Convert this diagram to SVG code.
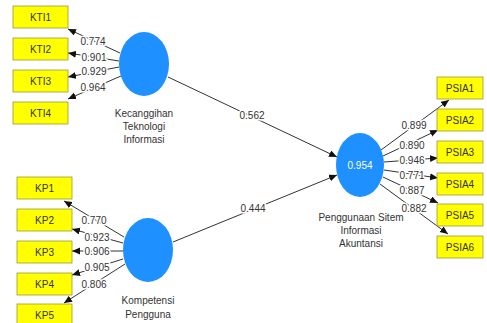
<svg xmlns="http://www.w3.org/2000/svg" width="487" height="323" viewBox="0 0 487 323">
<style>
.box{fill:#ffff00;stroke:#9a9a3a;stroke-width:0.8}
.lv{fill:#1e90ff}
.t{font-family:"Liberation Sans",Arial,sans-serif;font-size:10px;fill:#333;text-anchor:middle}
.lbl{font-family:"Liberation Sans",Arial,sans-serif;font-size:10px;fill:#333;text-anchor:middle;paint-order:stroke;stroke:#fff;stroke-width:3px;stroke-linejoin:round}
.c{stroke:#333;stroke-width:1;fill:none;marker-end:url(#ah)}
</style>
<defs>
<marker id="ah" markerUnits="userSpaceOnUse" markerWidth="9" markerHeight="8" refX="8" refY="3.5" orient="auto">
<path d="M0,0 L8,3.5 L0,7 z" fill="#111"/>
</marker>
</defs>
<rect width="487" height="323" fill="#fff"/>
<g id="connectors">
<line class="c" x1="120" y1="53" x2="68" y2="29"/>
<line class="c" x1="119" y1="61" x2="68" y2="53"/>
<line class="c" x1="119" y1="67" x2="68" y2="77"/>
<line class="c" x1="121" y1="76" x2="68" y2="99"/>
<line class="c" x1="124" y1="237" x2="64" y2="201"/>
<line class="c" x1="123" y1="243" x2="72" y2="229"/>
<line class="c" x1="123" y1="251" x2="72" y2="251"/>
<line class="c" x1="123" y1="259" x2="72" y2="275"/>
<line class="c" x1="125" y1="264" x2="64" y2="303"/>
<line class="c" x1="168" y1="77" x2="337" y2="157"/>
<line class="c" x1="173" y1="242" x2="337" y2="175"/>
<line class="c" x1="381" y1="150" x2="449" y2="100"/>
<line class="c" x1="383" y1="156" x2="438" y2="130"/>
<line class="c" x1="384" y1="162" x2="438" y2="158"/>
<line class="c" x1="384" y1="170" x2="438" y2="178"/>
<line class="c" x1="383" y1="177" x2="438" y2="203"/>
<line class="c" x1="380" y1="184" x2="448" y2="234"/>
<text class="lbl" x="93" y="45">0.774</text>
<text class="lbl" x="94" y="61">0.901</text>
<text class="lbl" x="94" y="75">0.929</text>
<text class="lbl" x="93" y="91">0.964</text>
<text class="lbl" x="94" y="224">0.770</text>
<text class="lbl" x="97" y="241">0.923</text>
<text class="lbl" x="97" y="255">0.906</text>
<text class="lbl" x="97" y="271">0.905</text>
<text class="lbl" x="94" y="288">0.806</text>
<text class="lbl" x="252" y="119">0.562</text>
<text class="lbl" x="253" y="212">0.444</text>
<text class="lbl" x="414" y="129">0.899</text>
<text class="lbl" x="412" y="149">0.890</text>
<text class="lbl" x="412" y="164">0.946</text>
<text class="lbl" x="412" y="179">0.771</text>
<text class="lbl" x="412" y="194">0.887</text>
<text class="lbl" x="414" y="212">0.882</text>
</g>
<g id="KTI1"><rect class="box" x="13" y="6" width="55" height="22"/><text class="t" x="40.5" y="20.5">KTI1</text></g>
<g id="KTI2"><rect class="box" x="13" y="38" width="55" height="22"/><text class="t" x="40.5" y="52.5">KTI2</text></g>
<g id="KTI3"><rect class="box" x="13" y="70" width="55" height="22"/><text class="t" x="40.5" y="84.5">KTI3</text></g>
<g id="KTI4"><rect class="box" x="13" y="102" width="55" height="22"/><text class="t" x="40.5" y="116.5">KTI4</text></g>
<g id="KP1"><rect class="box" x="17" y="177" width="55" height="22"/><text class="t" x="44.5" y="191.5">KP1</text></g>
<g id="KP2"><rect class="box" x="17" y="209" width="55" height="22"/><text class="t" x="44.5" y="223.5">KP2</text></g>
<g id="KP3"><rect class="box" x="17" y="241" width="55" height="22"/><text class="t" x="44.5" y="255.5">KP3</text></g>
<g id="KP4"><rect class="box" x="17" y="273" width="55" height="22"/><text class="t" x="44.5" y="287.5">KP4</text></g>
<g id="KP5"><rect class="box" x="17" y="304" width="55" height="22"/><text class="t" x="44.5" y="318.5">KP5</text></g>
<g id="PSIA1"><rect class="box" x="437" y="77" width="46" height="22"/><text class="t" x="460" y="91.5">PSIA1</text></g>
<g id="PSIA2"><rect class="box" x="437" y="109" width="46" height="22"/><text class="t" x="460" y="123.5">PSIA2</text></g>
<g id="PSIA3"><rect class="box" x="437" y="141" width="46" height="22"/><text class="t" x="460" y="155.5">PSIA3</text></g>
<g id="PSIA4"><rect class="box" x="437" y="173" width="46" height="22"/><text class="t" x="460" y="187.5">PSIA4</text></g>
<g id="PSIA5"><rect class="box" x="437" y="204" width="46" height="22"/><text class="t" x="460" y="218.5">PSIA5</text></g>
<g id="PSIA6"><rect class="box" x="437" y="236" width="46" height="22"/><text class="t" x="460" y="250.5">PSIA6</text></g>
<g id="KTI"><ellipse class="lv" cx="144" cy="64" rx="25" ry="32"/>
<text class="t" x="144" y="117">Kecanggihan</text><text class="t" x="144" y="130">Teknologi</text><text class="t" x="144" y="143">Informasi</text></g>
<g id="KP"><ellipse class="lv" cx="148" cy="250" rx="25" ry="32"/>
<text class="t" x="148" y="304">Kompetensi</text><text class="t" x="148" y="318">Pengguna</text></g>
<g id="PSIA"><ellipse class="lv" cx="360" cy="165" rx="24" ry="32"/>
<text class="t" x="360" y="169" style="fill:#fff">0.954</text>
<text class="t" x="361" y="221">Penggunaan Sitem</text><text class="t" x="361" y="234">Informasi</text><text class="t" x="361" y="247">Akuntansi</text></g>
</svg>
